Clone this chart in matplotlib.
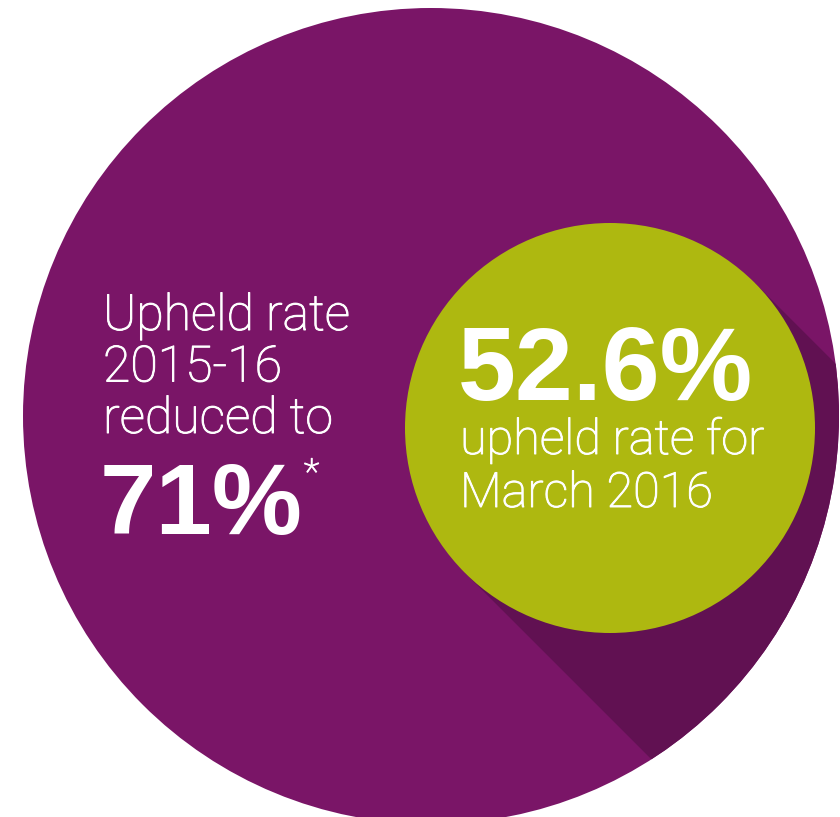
import matplotlib
matplotlib.use("Agg")
import matplotlib.pyplot as plt
import matplotlib.patheffects as pe
from matplotlib.patches import Circle, Polygon
import numpy as np

# values shown in the graphic
annual_label = ["Upheld rate", "2015-16", "reduced to"]
annual_rate = 71          # %
monthly_rate = 52.6       # %
monthly_label = ["upheld rate for", "March 2016"]

PURPLE = "#7a1567"
SHADOW = "#611152"
GREEN = "#aeb810"

W, H = 840, 817
fig = plt.figure(figsize=(W / 100, H / 100), dpi=100)
ax = fig.add_axes([0, 0, 1, 1])
ax.set_xlim(0, W)
ax.set_ylim(H, 0)
ax.axis("off")

# big purple disc
big_c, big_r = (431, 416), 408
big = Circle(big_c, big_r, facecolor=PURPLE, edgecolor="none", zorder=1)
ax.add_patch(big)

# small green disc + long 45 degree shadow, clipped to the big disc
sm_c, sm_r = (610, 428), 205
d = sm_r / np.sqrt(2)
p1 = np.array([sm_c[0] + d, sm_c[1] - d])
p2 = np.array([sm_c[0] - d, sm_c[1] + d])
L = 800
shadow = Polygon([p1, p1 + L, p2 + L, p2], closed=True,
                 facecolor=SHADOW, edgecolor="none", zorder=2)
ax.add_patch(shadow)
shadow.set_clip_path(big)
ax.add_patch(Circle(sm_c, sm_r, facecolor=GREEN, edgecolor="none", zorder=3))

# Roboto Light is a touch thinner than the original, fatten it slightly
thicken = [pe.withStroke(linewidth=0.7, foreground="white")]
light = dict(family=["Roboto", "DejaVu Sans"], weight="light",
             color="white", zorder=5, path_effects=thicken)
bold = dict(family=["Liberation Sans", "DejaVu Sans"], weight="bold",
            color="white", zorder=5)

# left block
for i, line in enumerate(annual_label):
    ax.text(103, 330 + i * 51.5, line, fontsize=36, va="baseline", **light)
ax.text(100, 534, f"{annual_rate}%", fontsize=73, va="baseline", **bold)
ax.text(304, 484, "*", fontsize=26, va="baseline", **light)

# green block
ax.text(458, 400, f"{monthly_rate}%", fontsize=75, va="baseline", **bold)
for i, line in enumerate(monthly_label):
    ax.text(460, 454 + i * 53, line, fontsize=35, va="baseline", **light)

fig.savefig("out.png", dpi=100, facecolor="white")
